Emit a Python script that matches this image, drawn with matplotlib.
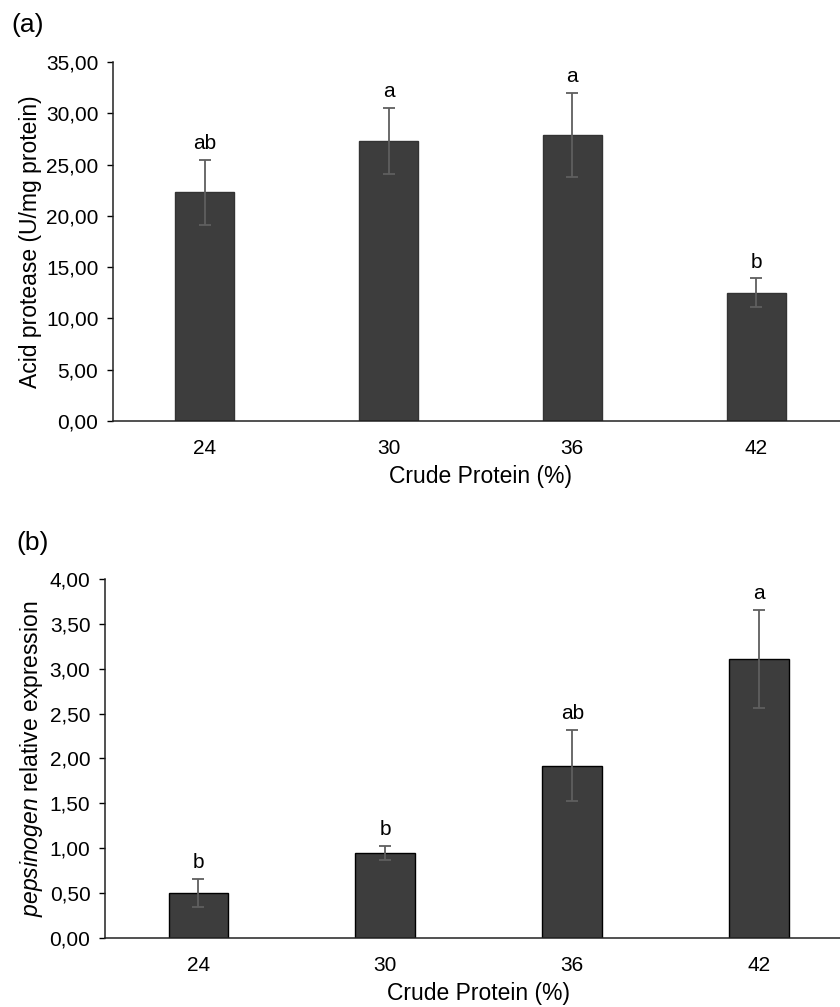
import matplotlib.pyplot as plt

plt.rcParams['font.family'] = ['Liberation Sans', 'DejaVu Sans']
plt.rcParams['mathtext.fontset'] = 'custom'
plt.rcParams['mathtext.it'] = 'Liberation Sans:italic'
plt.rcParams['mathtext.rm'] = 'Liberation Sans'

# Data
crude_protein = ["24", "30", "36", "42"]

acid_protease = [22.3, 27.3, 27.85, 12.5]
acid_protease_err = [3.15, 3.25, 4.1, 1.4]
acid_letters = ["ab", "a", "a", "b"]
acid_ticks = [0, 5, 10, 15, 20, 25, 30, 35]

pepsinogen = [0.50, 0.95, 1.92, 3.11]
pepsinogen_err = [0.155, 0.078, 0.40, 0.55]
pep_letters = ["b", "b", "ab", "a"]
pep_ticks = [0, 0.5, 1.0, 1.5, 2.0, 2.5, 3.0, 3.5, 4.0]

bar_color = "#3d3d3d"
err_color = "#5f5f5f"
fs = 15        # tick labels and letters
fs_lab = 16.5  # axis labels


def comma(v):
    return f"{v:.2f}".replace(".", ",")


def draw_panel(ax, values, errs, letters, ticks, ylabel, edge):
    x = range(len(crude_protein))
    ax.bar(x, values, width=0.32, color=bar_color, edgecolor=edge, linewidth=1.0, zorder=2)
    ax.errorbar(x, values, yerr=errs, fmt="none", ecolor=err_color,
                elinewidth=1.3, capsize=4, capthick=1.3, zorder=3)
    for xi, v, e, lab in zip(x, values, errs, letters):
        ax.annotate(lab, (xi, v + e), xytext=(0, 5), textcoords="offset points",
                    ha="center", va="bottom", fontsize=fs)
    ax.set_xlim(-0.5, len(crude_protein) - 0.5)
    ax.set_ylim(ticks[0], ticks[-1])
    ax.set_yticks(ticks)
    ax.set_yticklabels([comma(t) for t in ticks], fontsize=fs)
    ax.set_xticks(list(x))
    ax.set_xticklabels(crude_protein, fontsize=fs)
    ax.tick_params(axis="x", length=0, pad=13)
    ax.tick_params(axis="y", length=4.5, width=1.0, pad=6, direction="out")
    for s in ["top", "right"]:
        ax.spines[s].set_visible(False)
    for s in ["left", "bottom"]:
        ax.spines[s].set_linewidth(1.1)
        ax.spines[s].set_color("#222222")
    ax.set_xlabel("Crude Protein (%)", fontsize=fs_lab, labelpad=5)
    ax.set_ylabel(ylabel, fontsize=fs_lab, labelpad=3)


fig = plt.figure(figsize=(8.4, 10.07), dpi=100)

ax1 = fig.add_axes([0.1345, 0.5819, 0.875, 0.3565])
draw_panel(ax1, acid_protease, acid_protease_err, acid_letters, acid_ticks,
           "Acid protease (U/mg protein)", "#333333")

ax2 = fig.add_axes([0.125, 0.0688, 0.890, 0.3562])
draw_panel(ax2, pepsinogen, pepsinogen_err, pep_letters, pep_ticks,
           r"$\it{pepsinogen}$ relative expression", "black")

fig.text(0.014, 0.975, "(a)", fontsize=19, va="center", ha="left")
fig.text(0.019, 0.461, "(b)", fontsize=19, va="center", ha="left")

fig.savefig("out.png", dpi=100)
